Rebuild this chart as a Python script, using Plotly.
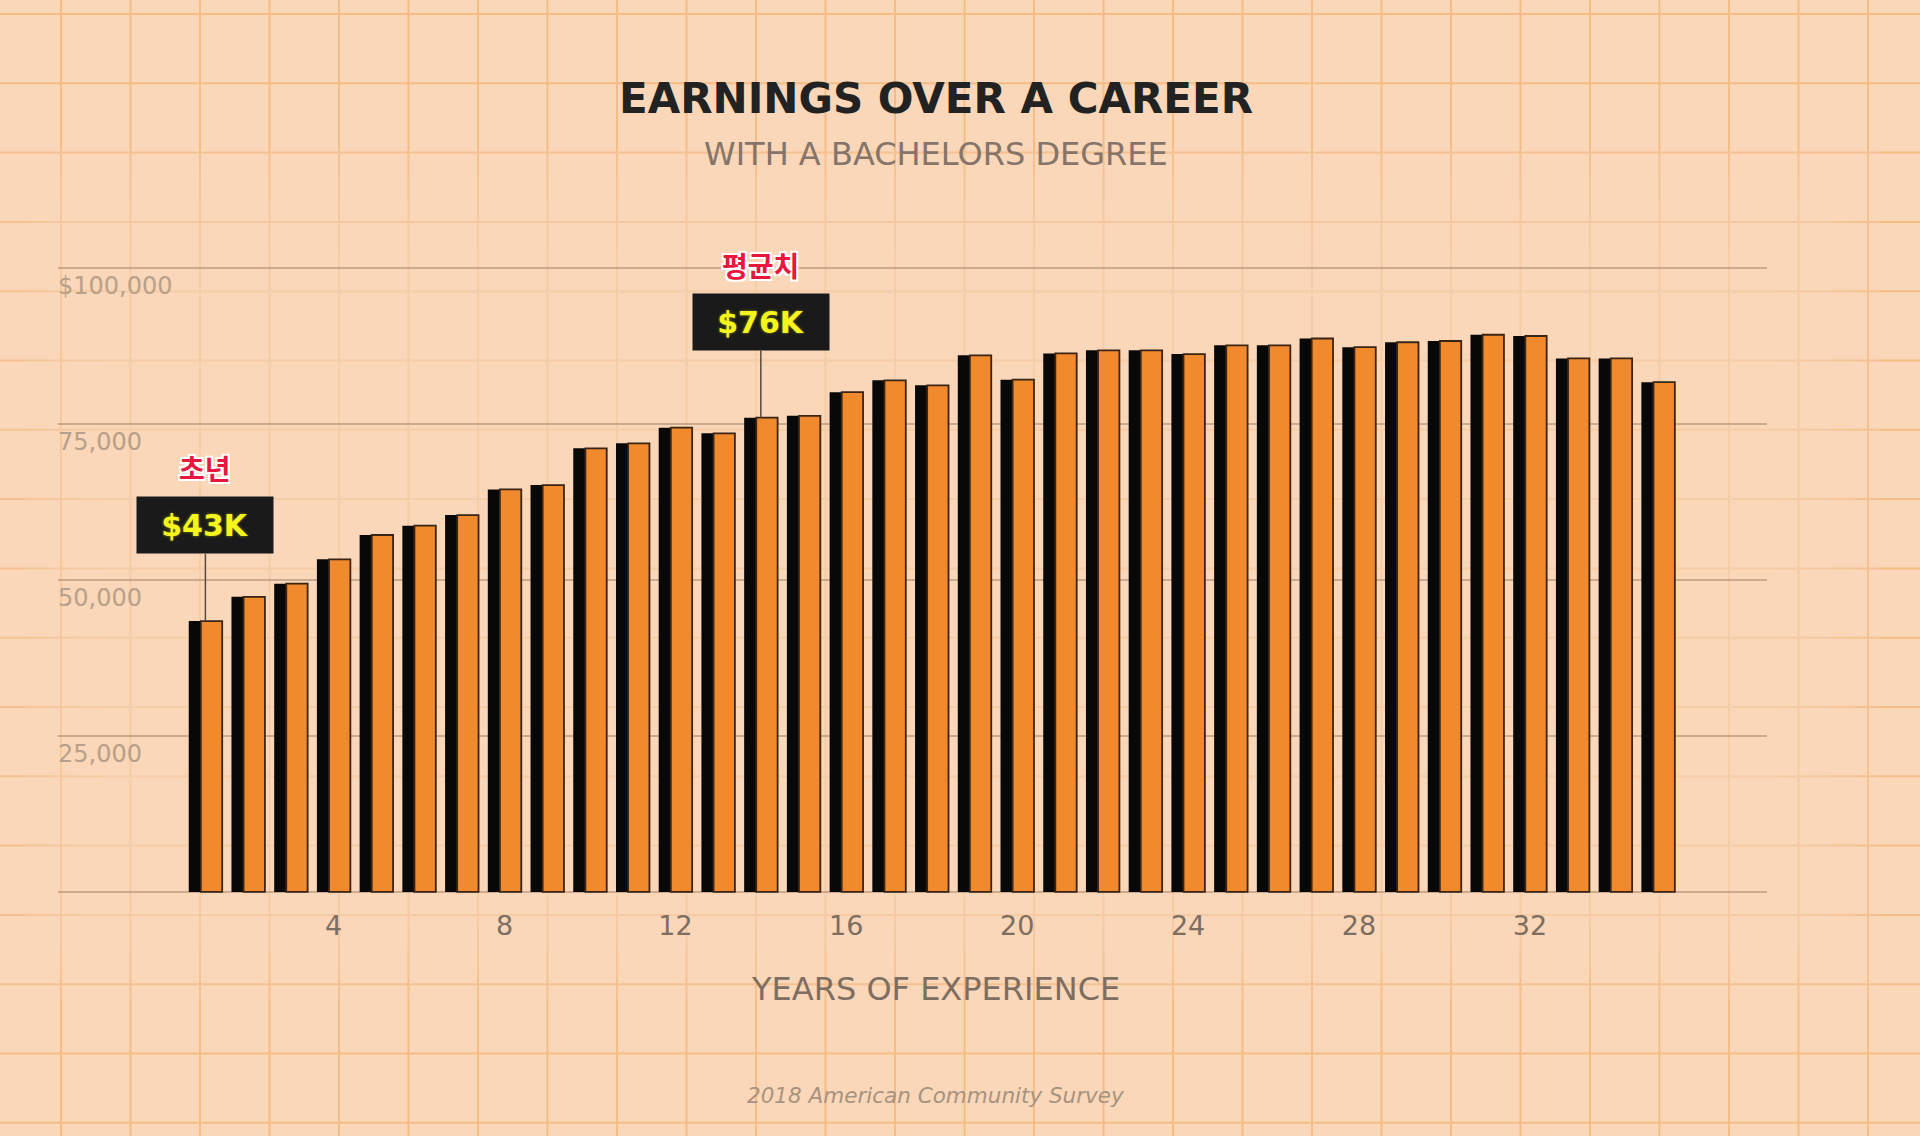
import plotly.graph_objects as go

# earnings by years of experience (bachelor's degree)
years = list(range(1, 36))
earnings = [43400, 47300, 49400, 53300, 57200, 58700, 60400, 64500, 65200, 71100,
            71900, 74400, 73500, 76000, 76300, 80100, 82000, 81200, 86000, 82100,
            86300, 86800, 86800, 86200, 87600, 87600, 88700, 87300, 88100, 88300,
            89300, 89100, 85500, 85500, 81700]

x_ticks = [4, 8, 12, 16, 20, 24, 28, 32]
y_ticks = [25000, 50000, 75000, 100000]
y_tick_text = ["25,000", "50,000", "75,000", "$100,000"]

# callouts: index into the series, korean label
callouts = [(0, "초년"), (13, "평균치")]

W, H = 1920, 1136
L, R, T, B = 58, 153, 262, 241
BG = "#F9D7B8"

def px_x(x):
    return (x - L) / (W - L - R)

def px_y(y):
    return (H - B - y) / (H - T - B)

fig = go.Figure()

# shadow bar (black) and the orange face on top
fig.add_trace(go.Bar(x=years, y=earnings, width=0.78, offset=-0.39,
                     marker=dict(color="#080808", line=dict(width=0)),
                     hoverinfo="skip", showlegend=False))
fig.add_trace(go.Bar(x=years, y=earnings, width=0.5, offset=-0.107,
                     marker=dict(color="#F18A2C", line=dict(color="#3A2514", width=1.8)),
                     showlegend=False))

# graph-paper background
shapes = []
gx = 61 - 69.5
while gx < W:
    shapes.append(dict(type="line", xref="paper", yref="paper", layer="below",
                       x0=px_x(gx), x1=px_x(gx), y0=px_y(-5), y1=px_y(H + 5),
                       line=dict(color="#F5BC86", width=2)))
    gx += 69.5
gy = 14
while gy < H:
    shapes.append(dict(type="line", xref="paper", yref="paper", layer="below",
                       x0=px_x(-5), x1=px_x(W + 5), y0=px_y(gy), y1=px_y(gy),
                       line=dict(color="#F5BC86", width=2)))
    gy += 69.3
# fade the paper grid towards the middle of the chart
for k in range(5):
    shapes.append(dict(type="rect", xref="paper", yref="paper", layer="below",
                       x0=px_x(0 + 25 * k), x1=px_x(1880 - 25 * k),
                       y0=px_y(150 + 25 * k), y1=px_y(1000 - 25 * k),
                       fillcolor="rgba(249,215,184,0.2)", line=dict(width=0)))

annotations = []

# y tick labels sit just under their gridlines
for v, t in zip(y_ticks, y_tick_text):
    annotations.append(dict(x=0, xref="paper", y=v, yref="y", text=t,
                            xanchor="left", yanchor="middle", yshift=-18, xshift=-2,
                            showarrow=False,
                            font=dict(family="DejaVu Sans", size=24, color="#B8A08A")))

for i, label in callouts:
    annotations.append(dict(x=years[i], y=earnings[i], text="$%dK" % round(earnings[i] / 1000),
                            showarrow=True, arrowhead=0, arrowwidth=1.5, arrowcolor="#5A4A3E",
                            ax=0, ay=-96, bgcolor="#1A1A1A", width=130, height=50, borderpad=3,
                            font=dict(family="DejaVu Sans", size=30, color="#F4F41E",
                                      weight="bold", shadow="0 0 3px rgba(240,240,0,0.5)")))
    annotations.append(dict(x=years[i], y=earnings[i], text=label, showarrow=False,
                            yshift=153,
                            font=dict(family="Noto Sans CJK KR", size=28, color="#E8173D",
                                      weight="bold",
                                      shadow="2px 2px 0 #fff, -2px -2px 0 #fff, 2px -2px 0 #fff, -2px 2px 0 #fff")))

annotations.append(dict(x=px_x(936), y=px_y(154), xref="paper", yref="paper",
                        xanchor="center", yanchor="middle",
                        text="WITH A BACHELORS DEGREE", showarrow=False,
                        font=dict(family="DejaVu Sans", size=32, color="#85746A")))
annotations.append(dict(x=px_x(936), y=px_y(989), xref="paper", yref="paper",
                        xanchor="center", yanchor="middle",
                        text="YEARS OF EXPERIENCE", showarrow=False,
                        font=dict(family="DejaVu Sans", size=32, color="#7E6E62")))
annotations.append(dict(x=px_x(936), y=px_y(1095), xref="paper", yref="paper",
                        xanchor="center", yanchor="middle",
                        text="<i>2018 American Community Survey</i>", showarrow=False,
                        font=dict(family="DejaVu Sans", size=21.5, color="#A8937F")))

fig.update_layout(
    width=W, height=H,
    margin=dict(l=L, r=R, t=T, b=B),
    paper_bgcolor=BG, plot_bgcolor="rgba(0,0,0,0)",
    barmode="overlay",
    title=dict(text="<b>EARNINGS OVER A CAREER</b>", x=px_x(936), xref="paper",
               y=1 - 98 / H, yref="container", xanchor="center", yanchor="middle",
               font=dict(family="DejaVu Sans", size=42, color="#222222")),
    shapes=shapes,
    annotations=annotations,
    xaxis=dict(range=[-2.45, 37.55], tickvals=x_ticks, showgrid=False, zeroline=False,
               showline=False, ticks="", ticklabelstandoff=12,
               tickfont=dict(family="DejaVu Sans", size=27, color="#7E6E62")),
    yaxis=dict(range=[-500, 100960], tickvals=y_ticks, showticklabels=False,
               showgrid=True, gridcolor="rgba(130,100,75,0.38)", gridwidth=2,
               zeroline=True, zerolinecolor="rgba(130,100,75,0.38)", zerolinewidth=2,
               showline=False),
)

fig.write_html("out.html", config={"displayModeBar": False},
               post_script="document.body.style.margin='0px';")
